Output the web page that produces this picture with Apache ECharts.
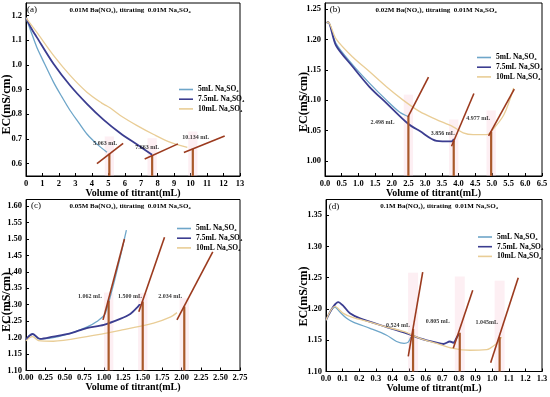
<!DOCTYPE html>
<html><head><meta charset="utf-8">
<script src="https://cdn.jsdelivr.net/npm/echarts@6/dist/echarts.min.js"></script>
<style>html,body{margin:0;padding:0;background:#fff}#c{width:550px;height:397px}</style>
</head><body><div id="c"></div>
<script>
// ---------- text ----------
const seriesNames = ['5mL Na₂SO₄', '7.5mL Na₂SO₄', '10mL Na₂SO₄'];
const panelTitles = [
  '0.01M Ba(NO₃)₂ titrating  0.01M Na₂SO₄',
  '0.02M Ba(NO₃)₂ titrating  0.01M Na₂SO₄',
  '0.05M Ba(NO₃)₂ titrating  0.01M Na₂SO₄',
  '0.1M Ba(NO₃)₂ titrating  0.01M Na₂SO₄'
];
const panelTags = ['(a)', '(b)', '(c)', '(d)'];
const xName = 'Volume of titrant(mL)';
const yName = 'EC(mS/cm)';

// ---------- panel (a) ----------
const a5 = [[0,1.19],[0.3,1.135],[0.65,1.072],[1.0,1.022],[1.67,0.93],[2.2,0.868],[2.68,0.815],[3.2,0.766],[3.7,0.72],[4.3,0.68],[4.92,0.646]];
const a7 = [[0,1.19],[0.3,1.15],[0.65,1.112],[1.67,1.004],[2.68,0.916],[3.7,0.842],[4.72,0.777],[5.73,0.723],[6.75,0.677],[7.66,0.636]];
const a10 = [[0,1.19],[0.65,1.132],[1.67,1.038],[2.68,0.957],[3.7,0.889],[4.6,0.845],[4.92,0.833],[5.1,0.826],[5.73,0.795],[6.75,0.754],[7.76,0.718],[8.78,0.686],[9.8,0.666]];
const aTangents = [[[4.31,0.600],[5.90,0.682]], [[7.21,0.619],[9.23,0.680]], [[9.59,0.645],[12.07,0.712]]];
const aEq = [5.063, 7.663, 10.134];
const aEqTop = [0.640, 0.633, 0.660];
const aEqText = ['5.063 mL', '7.663 mL', '10.134 mL'];
const aXStep = 1;
const aYTicks = [0.6,0.7,0.8,0.9,1.0,1.1,1.2];

// ---------- panel (b) ----------
const b5 = [[0.05,1.227],[0.09,1.229],[0.33,1.193],[0.83,1.158],[1.33,1.128],[1.84,1.100],[2.24,1.080],[2.49,1.073]];
const b7 = [[0.05,1.227],[0.09,1.229],[0.33,1.190],[0.83,1.155],[1.33,1.122],[1.84,1.095],[2.49,1.061],[2.84,1.049],[3.34,1.033],[3.79,1.032],[3.86,1.036]];
const b10 = [[0.05,1.227],[0.09,1.229],[0.33,1.201],[0.83,1.171],[1.33,1.147],[1.84,1.122],[2.34,1.100],[2.84,1.081],[3.34,1.068],[3.84,1.056],[4.14,1.046],[4.44,1.043],[4.84,1.043],[4.94,1.046],[5.35,1.075],[5.65,1.120]];
const bTangents = [[[2.49,1.073],[3.10,1.138]], [[3.79,1.024],[4.46,1.111]], [[4.90,1.041],[5.67,1.118]]];
const bEq = [2.498, 3.856, 4.977];
const bEqTop = [1.074, 1.033, 1.048];
const bEqText = ['2.498 mL', '3.856 mL', '4.977 mL'];
const bXStep = 0.5;
const bYTicks = [1.00,1.05,1.10,1.15,1.20,1.25];

// ---------- panel (c) ----------
const c5 = [[0,1.193],[0.04,1.205],[0.086,1.211],[0.16,1.197],[0.25,1.197],[0.35,1.200],[0.57,1.213],[0.78,1.232],[0.91,1.249],[1.02,1.274],[1.29,1.527]];
const c7 = [[0,1.193],[0.04,1.205],[0.086,1.211],[0.18,1.196],[0.35,1.203],[0.57,1.213],[0.78,1.229],[1.0,1.239],[1.21,1.257],[1.34,1.272],[1.43,1.292],[1.47,1.304]];
const c10 = [[0,1.190],[0.04,1.199],[0.086,1.203],[0.16,1.191],[0.35,1.189],[0.78,1.203],[1.21,1.222],[1.64,1.244],[1.86,1.263],[1.94,1.276]];
const cTangents = [[[0.99,1.254],[1.265,1.500]], [[1.45,1.279],[1.78,1.505]], [[1.94,1.254],[2.40,1.461]]];
const cEq = [1.062, 1.500, 2.034];
const cEqTop = [1.312, 1.310, 1.295];
const cEqText = ['1.062 mL', '1.500 mL', '2.034 mL'];
const cXStep = 0.25;
const cYTicks = [1.10,1.15,1.20,1.25,1.30,1.35,1.40,1.45,1.50,1.55,1.60];

// ---------- panel (d) ----------
const d5 = [[0,1.182],[0.054,1.203],[0.084,1.195],[0.124,1.185],[0.164,1.179],[0.265,1.169],[0.365,1.158],[0.425,1.148],[0.47,1.145],[0.495,1.147],[0.51,1.155]];
const d7 = [[0,1.182],[0.074,1.211],[0.104,1.205],[0.144,1.193],[0.205,1.185],[0.365,1.171],[0.485,1.161],[0.566,1.153],[0.666,1.146],[0.706,1.144],[0.746,1.148],[0.766,1.146],[0.786,1.154],[0.80,1.160]];
const d10 = [[0,1.182],[0.054,1.204],[0.104,1.193],[0.164,1.186],[0.265,1.179],[0.365,1.171],[0.465,1.164],[0.566,1.153],[0.666,1.145],[0.766,1.137],[0.867,1.134],[0.967,1.135],[0.987,1.137],[1.027,1.145],[1.057,1.155]];
const dTangents = [[[0.495,1.124],[0.582,1.259]], [[0.766,1.137],[0.883,1.230]], [[0.991,1.114],[1.157,1.250]]];
const dEq = [0.524, 0.805, 1.045];
const dEqTop = [1.168, 1.162, 1.155];
const dEqText = ['0.524 mL', '0.805 mL', '1.045mL'];
const dXStep = 0.1;
const dYTicks = [1.10,1.15,1.20,1.25,1.30,1.35];

// ---------- styling / layout ----------
const FONT = "'Liberation Serif','DejaVu Serif','Times New Roman',serif";
const COLORS = ['#6ea6c9', '#3b3d90', '#e9cd96'];
const WIDTHS = [1.3, 1.8, 1.3];
const TAN_COLOR = '#9b3a1e';
const VERT_COLOR = '#a9592a';
const BAND_COLOR = 'rgba(248,196,212,0.28)';

const panels = [
  {grid:{left:26, top:3, width:214, height:173}, xr:[0,13], yr:[0.55,1.25], xs:aXStep, yt:aYTicks, xd:0, yd:1,
   curves:[a5,a7,a10], tan:aTangents, eq:aEq, eqTop:aEqTop, eqText:aEqText, band:0.28, bandExtra:0.07,
   lblOff:[[-4,-7.5],[-5,-4.5],[3,-8]], yGap:13, yPad:[0,30,0,0],
   legend:{left:179, top:85.5}, title:[130,10], tag:[32,10]},
  {grid:{left:325, top:3, width:217, height:173}, xr:[0,6.5], yr:[0.975,1.26], xs:bXStep, yt:bYTicks, xd:1, yd:2,
   curves:[b5,b7,b10], tan:bTangents, eq:bEq, eqTop:bEqTop, eqText:bEqText, band:0.14, bandExtra:0.035,
   lblOff:[[-26,10],[-11,-4],[-13,-10.5]], yGap:15, yPad:[0,25,0,0],
   legend:{left:477, top:53.5}, title:[436,10], tag:[335,10]},
  {grid:{left:26, top:199.5, width:214, height:171}, xr:[0,2.75], yr:[1.10,1.62], xs:cXStep, yt:cYTicks, xd:2, yd:2,
   curves:[c5,c7,c10], tan:cTangents, eq:cEq, eqTop:cEqTop, eqText:cEqText, band:0.06, bandExtra:0.025,
   lblOff:[[-18.6,-1.5],[-12.7,-1.5],[-14,-6.5]], yGap:13, yPad:[0,34,0,0],
   legend:{left:177, top:224.5}, title:[130,206], tag:[36,206]},
  {grid:{left:326, top:199.5, width:216, height:172}, xr:[0,1.3], yr:[1.10,1.375], xs:dXStep, yt:dYTicks, xd:1, yd:2,
   curves:[d5,d7,d10], tan:dTangents, eq:dEq, eqTop:dEqTop, eqText:dEqText, band:0.03, bandExtra:0.09,
   lblOff:[[-15,-0.5],[-22,-8.5],[-13,-11.5]], yGap:16, yPad:[0,22,0,0],
   legend:{left:478, top:233}, title:[439,206.5], tag:[334,207]}
];

const grids = [], xAxes = [], yAxes = [], series = [], legends = [], graphics = [];

panels.forEach((p, i) => {
  grids.push(Object.assign({show:true, borderColor:'#000', borderWidth:1, backgroundColor:'transparent',
    containLabel:false, outerBoundsMode:'none'}, p.grid));
  const common = {
    type:'value', gridIndex:i, splitLine:{show:false},
    axisLine:{show:true, onZero:false, lineStyle:{color:'#000', width:1}},
    nameLocation:'middle', nameMoveOverlap:false,
  };
  xAxes.push(Object.assign({}, common, {
    min:p.xr[0], max:p.xr[1], interval:p.xs,
    axisTick:{show:true, inside:true, length:3, lineStyle:{color:'#000'}},
    axisLabel:{showMaxLabel:true, showMinLabel:true, hideOverlap:false,
      formatter:v => v.toFixed(p.xd), fontFamily:FONT, fontWeight:'bold', fontSize:8.5, color:'#000', margin:3},
    name:xName, nameGap:12,
    nameTextStyle:{fontFamily:FONT, fontWeight:'bold', fontSize:10, color:'#000'}
  }));
  yAxes.push(Object.assign({}, common, {
    min:p.yr[0], max:p.yr[1],
    axisTick:{show:true, inside:true, length:3, customValues:p.yt, lineStyle:{color:'#000'}},
    axisLabel:{customValues:p.yt, showMaxLabel:true, showMinLabel:true,
      formatter:v => v.toFixed(p.yd), fontFamily:FONT, fontWeight:'bold', fontSize:8.5, color:'#000', margin:4},
    name:yName, nameGap:p.yGap, nameRotate:90,
    nameTextStyle:{fontFamily:FONT, fontWeight:'bold', fontSize:12, color:'#000', padding:p.yPad}
  }));

  // pink bands + vertical lines
  p.eq.forEach((x, k) => {
    series.push({
      type:'line', name:'eq', xAxisIndex:i, yAxisIndex:i, symbol:'none', silent:true, z:4,
      data:[[x, p.yr[0]], [x, p.eqTop[k]]],
      lineStyle:{color:VERT_COLOR, width:2.2},
      markArea:{silent:true, itemStyle:{color:BAND_COLOR},
        data:[[{coord:[x - p.band, p.yr[0]]}, {coord:[x + p.band, p.eqTop[k] + p.bandExtra]}]]}
    });
  });
  // curves
  p.curves.forEach((d, k) => {
    series.push({
      type:'line', name:seriesNames[k], xAxisIndex:i, yAxisIndex:i, data:d,
      symbol:'none', smooth:0.3, z:3,
      lineStyle:{color:COLORS[k], width:WIDTHS[k]}, itemStyle:{color:COLORS[k]}
    });
  });
  // tangents
  p.tan.forEach(seg => {
    series.push({
      type:'line', name:'tangent', xAxisIndex:i, yAxisIndex:i, data:seg, symbol:'none', silent:true, z:5,
      lineStyle:{color:TAN_COLOR, width:1.6}
    });
  });
  // equivalence labels
  series.push({
    type:'scatter', name:'label', xAxisIndex:i, yAxisIndex:i, symbolSize:0.1, silent:true, z:6,
    itemStyle:{color:'rgba(0,0,0,0)'},
    data:p.eq.map((x, k) => ({value:[x, p.eqTop[k]], text:p.eqText[k],
      label:{show:true, position:'top', distance:0, offset:p.lblOff[k]}})),
    label:{show:true, color:'#000', fontFamily:FONT, fontWeight:'bold', fontSize:6,
      formatter:q => q.data.text}
  });

  legends.push({
    data:seriesNames, left:p.legend.left, top:p.legend.top, orient:'vertical',
    icon:'rect', itemWidth:14, itemHeight:1.6, itemGap:1.7, padding:0, selectedMode:false,
    textStyle:{fontFamily:FONT, fontWeight:'bold', fontSize:7.5, color:'#000', lineHeight:8}
  });

  graphics.push({type:'text', x:p.title[0], y:p.title[1], silent:true,
    style:{text:panelTitles[i], font:"bold 7px " + FONT, fill:'#000', align:'center', verticalAlign:'middle'}});
  graphics.push({type:'text', x:p.tag[0], y:p.tag[1], silent:true,
    style:{text:panelTags[i], font:"9px " + FONT, fill:'#000', align:'center', verticalAlign:'middle'}});
});

const chart = echarts.init(document.getElementById('c'), null, {renderer:'canvas'});
chart.setOption({
  backgroundColor:'#fff',
  animation:false,
  grid:grids, xAxis:xAxes, yAxis:yAxes, series:series, legend:legends, graphic:graphics
});
</script></body></html>
